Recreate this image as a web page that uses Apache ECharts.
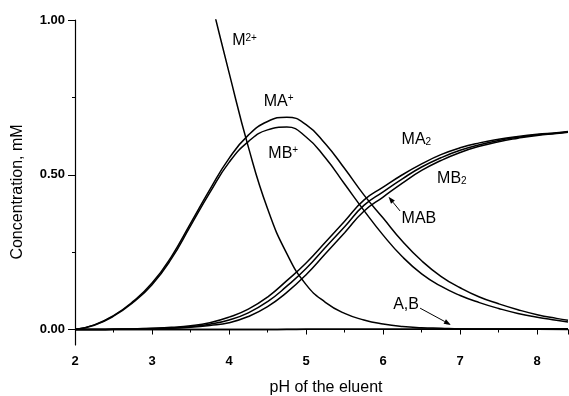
<!DOCTYPE html>
<html>
<head>
<meta charset="utf-8">
<script src="https://cdn.jsdelivr.net/npm/echarts@6/dist/echarts.min.js"></script>
<style>
  html, body { margin: 0; padding: 0; background: #fff; }
  #chart { width: 569px; height: 396px; }
</style>
</head>
<body>
<div id="chart"></div>
<script>
// pH grid shared by the complex species
const pH = [2, 2.25, 2.5, 2.75, 3, 3.25, 3.5, 3.75, 4, 4.25, 4.5, 4.75, 5, 5.25, 5.5,
            5.75, 6, 6.25, 6.5, 6.75, 7, 7.25, 7.5, 7.75, 8, 8.25, 8.4];

// Concentrations, mM
const MAplus = [0, 0.015, 0.045, 0.09, 0.15, 0.235, 0.343, 0.452, 0.553, 0.628, 0.672, 0.686, 0.662, 0.6, 0.52,
                0.435, 0.36, 0.285, 0.222, 0.172, 0.135, 0.105, 0.083, 0.064, 0.048, 0.036, 0.03];
const MBplus = [0, 0.014, 0.043, 0.087, 0.145, 0.228, 0.335, 0.442, 0.54, 0.607, 0.645, 0.654, 0.622, 0.555, 0.47,
                0.385, 0.305, 0.235, 0.18, 0.14, 0.11, 0.087, 0.068, 0.052, 0.04, 0.03, 0.024];
const MA2 = [0, 0, 0.001, 0.002, 0.004, 0.007, 0.012, 0.022, 0.04, 0.066, 0.105, 0.158, 0.215, 0.282, 0.35,
             0.418, 0.46, 0.5, 0.535, 0.565, 0.587, 0.603, 0.615, 0.624, 0.631, 0.636, 0.64];
const MAB = [0, 0, 0.001, 0.0015, 0.003, 0.005, 0.009, 0.017, 0.031, 0.054, 0.09, 0.14, 0.197, 0.265, 0.332,
             0.401, 0.445, 0.487, 0.525, 0.555, 0.579, 0.597, 0.611, 0.621, 0.629, 0.635, 0.639];
const MB2 = [0, 0, 0.0005, 0.001, 0.002, 0.004, 0.007, 0.013, 0.022, 0.042, 0.074, 0.12, 0.177, 0.245, 0.313,
             0.382, 0.428, 0.473, 0.514, 0.546, 0.572, 0.592, 0.607, 0.618, 0.627, 0.633, 0.637];
const freeA = [0, 0, 0, 0, 0, 0, 0, 0, 0, 0, 0, 0.0005, 0.0005, 0.0005, 0.001,
               0.001, 0.001, 0.001, 0.0015, 0.0015, 0.0015, 0.002, 0.002, 0.002, 0.0025, 0.0025, 0.0025];
const freeB = [0, 0, 0, 0, 0, 0, 0, 0, 0, 0, 0, 0, 0.0005, 0.0005, 0.0005,
               0.001, 0.001, 0.001, 0.001, 0.0015, 0.0015, 0.0015, 0.002, 0.002, 0.002, 0.002, 0.0025];

// Free metal ion (starts above the plotted range)
const pH_M = [3.5, 3.75, 4, 4.25, 4.5, 4.75, 5, 5.25, 5.5, 5.75, 6, 6.25, 6.5, 6.75, 7, 7.5, 8, 8.4];
const Mfree = [1.33, 1.08, 0.83, 0.59, 0.39, 0.245, 0.145, 0.088, 0.052, 0.031, 0.018, 0.01, 0.006, 0.004,
               0.002, 0.001, 0.0005, 0.0003];

// Axis tick values
const yMajorTicks = [0, 0.5, 1];
const yMinorTicks = [0.25, 0.75];

// Curve labels, anchored in data coordinates [pH, conc]
const labelText = ['M{sup|2+}', 'MA{sup|+}', 'MB{sup|+}', 'MA{sub|2}', 'MB{sub|2}', 'MAB', 'A,B'];
const labelAt = [[4.04, 0.932], [4.45, 0.737], [4.51, 0.57], [6.24, 0.615], [6.70, 0.489], [6.24, 0.359], [6.13, 0.081]];
// Leader arrows [from, to] in data coordinates
const arrows = [
  [[6.22, 0.383], [6.07, 0.429]],
  [[6.48, 0.069], [6.88, 0.015]]
];

const font = 'Arial, "Liberation Sans", sans-serif';
const chart = echarts.init(document.getElementById('chart'));

function curve(name, xs, ys) {
  return {
    type: 'line', name: name, silent: true,
    data: xs.map((x, i) => [x, ys[i]]),
    smooth: 0.5, symbol: 'none',
    lineStyle: { color: '#000', width: 1.5 }
  };
}

chart.setOption({
  animation: false,
  backgroundColor: '#fff',
  grid: { left: 75, right: 1, top: 20, bottom: 51 },
  xAxis: {
    type: 'value', min: 2, max: 8.4, interval: 1,
    axisLine: { lineStyle: { color: '#000', width: 1.2 } },
    axisTick: { length: 5, lineStyle: { color: '#000' } },
    minorTick: { show: true, splitNumber: 2, length: 3, lineStyle: { color: '#000' } },
    splitLine: { show: false },
    axisLabel: {
      color: '#000', fontWeight: 'bold', fontSize: 13, fontFamily: font, margin: 10,
      showMaxLabel: false
    }
  },
  yAxis: [{
    type: 'value', min: -0.05, max: 1,
    axisLine: { show: true, lineStyle: { color: '#000', width: 1.2 } },
    axisTick: { show: true, length: 7, customValues: yMajorTicks, lineStyle: { color: '#000' } },
    axisLabel: {
      customValues: yMajorTicks, color: '#000', fontWeight: 'bold', fontSize: 13, fontFamily: font,
      margin: 10, formatter: v => v.toFixed(2)
    },
    splitLine: { show: false }
  }, {
    type: 'value', min: -0.05, max: 1, position: 'left',
    axisLine: { show: false },
    axisTick: { show: true, length: 3, customValues: yMinorTicks, lineStyle: { color: '#000' } },
    axisLabel: { show: false },
    splitLine: { show: false }
  }],
  series: [
    curve('A', pH, freeA),
    curve('B', pH, freeB),
    curve('M2+', pH_M, Mfree),
    curve('MA+', pH, MAplus),
    curve('MB+', pH, MBplus),
    curve('MA2', pH, MA2),
    curve('MAB', pH, MAB),
    curve('MB2', pH, MB2)
  ]
});

const toPx = p => chart.convertToPixel({ xAxisIndex: 0, yAxisIndex: 0 }, p);
const titleStyle = { fontSize: 16, fontFamily: font, fill: '#000', align: 'center', verticalAlign: 'middle' };
const graphics = [
  { type: 'text', x: 18, y: 192, rotation: Math.PI / 2, style: Object.assign({ text: 'Concentration, mM' }, titleStyle) },
  { type: 'text', x: 326, y: 388, style: Object.assign({ text: 'pH of the eluent' }, titleStyle) }
];

labelText.forEach((t, i) => {
  const p = toPx(labelAt[i]);
  graphics.push({
    type: 'text', x: p[0], y: p[1],
    style: {
      text: t, fontSize: 16, fontFamily: font, fill: '#000', align: 'left', verticalAlign: 'middle',
      rich: {
        sup: { fontSize: 10, fontFamily: font, fill: '#000', verticalAlign: 'top', lineHeight: 10, padding: [0, 0, 8, 0] },
        sub: { fontSize: 10, fontFamily: font, fill: '#000', verticalAlign: 'bottom', lineHeight: 10, padding: [8, 0, 0, 0] }
      }
    }
  });
});

arrows.forEach(a => {
  const p1 = toPx(a[0]), p2 = toPx(a[1]);
  const dx = p2[0] - p1[0], dy = p2[1] - p1[1];
  const len = Math.hypot(dx, dy);
  const ux = dx / len, uy = dy / len, nx = -uy, ny = ux;
  const hl = 7, hw = 2.5;
  const bx = p2[0] - ux * hl, by = p2[1] - uy * hl;
  graphics.push({
    type: 'line', shape: { x1: p1[0], y1: p1[1], x2: bx, y2: by },
    style: { stroke: '#000', lineWidth: 1 }
  });
  graphics.push({
    type: 'polygon',
    shape: { points: [[p2[0], p2[1]], [bx + nx * hw, by + ny * hw], [bx - nx * hw, by - ny * hw]] },
    style: { fill: '#000' }
  });
});

chart.setOption({ graphic: graphics });
</script>
</body>
</html>
